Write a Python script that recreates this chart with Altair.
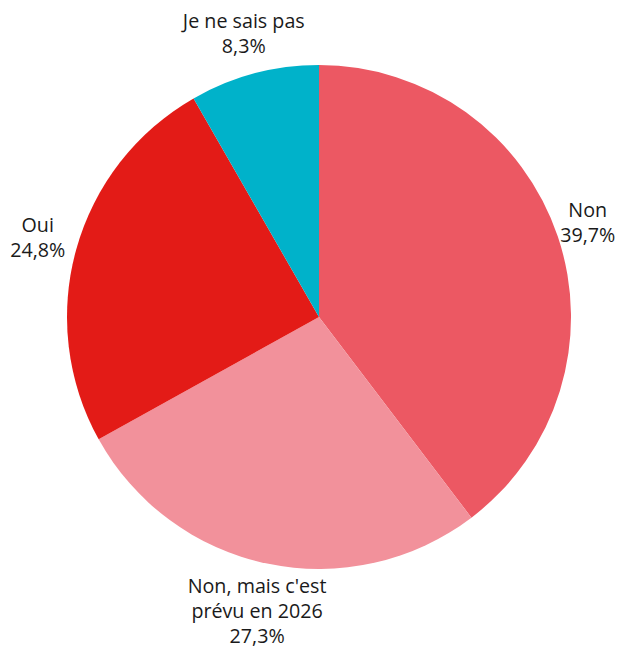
import altair as alt
import pandas as pd

categories = ["Non", "Non, mais c'est prévu en 2026", "Oui", "Je ne sais pas"]
values = [39.7, 27.3, 24.8, 8.3]
labels = ["Non\n39,7%", "Non, mais c'est\nprévu en 2026\n27,3%", "Oui\n24,8%", "Je ne sais pas\n8,3%"]
colors = ["#EC5863", "#F2919B", "#E31B17", "#00B2CA"]
order = [0, 1, 2, 3]

df = pd.DataFrame({"cat": categories, "val": values, "label": labels, "ord": order})
total = sum(values)

LH = 25
FS = 19.7
FONT = "Open Sans"
TXT = "#1a1a1a"
tscale = alt.Scale(domain=[0, total])

base = (
    alt.Chart(df)
    .transform_window(cum="sum(val)", sort=[alt.SortField("ord")])
    .transform_calculate(start="datum.cum - datum.val", mid="datum.cum - datum.val / 2")
    .encode(x=alt.value(311), y=alt.value(309))
)

arcs = base.mark_arc(outerRadius=252).encode(
    theta=alt.Theta("start:Q", scale=tscale),
    theta2="cum:Q",
    color=alt.Color("cat:N", scale=alt.Scale(domain=categories, range=colors), legend=None),
)

tbase = base.encode(theta=alt.Theta("mid:Q", scale=tscale), text="label:N")

def txt(r, dy, dx=0):
    return tbase.mark_text(
        radius=r, font=FONT, fontSize=FS, color=TXT, lineBreak="\n", lineHeight=LH,
        align="center", baseline="middle", dy=dy, dx=dx,
    )

t_non = txt(292, -LH / 2, -8).transform_filter("datum.ord == 0")
t_two = txt(292, -LH / 2).transform_filter("datum.ord == 2 || datum.ord == 3")
t_three = txt(301, -LH).transform_filter("datum.ord == 1")

chart = (arcs + t_non + t_two + t_three).properties(
    width=608, height=642, padding=0, autosize=alt.AutoSizeParams(type="none")
).configure_view(stroke=None)

chart.save("out.html", embed_options={"renderer": "svg", "actions": False})
